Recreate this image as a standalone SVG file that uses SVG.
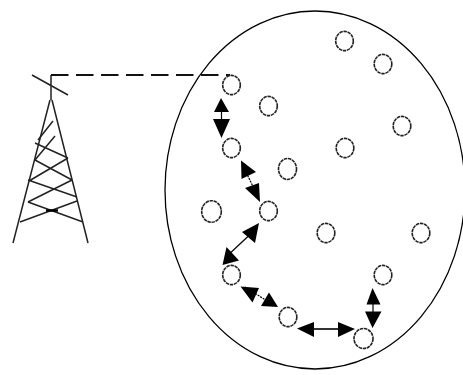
<svg xmlns="http://www.w3.org/2000/svg" width="463" height="375" viewBox="0 0 463 375">
<style>
.l{fill:none;stroke:#000;stroke-width:1.300}
.t{fill:none;stroke:#222;stroke-width:1.500}
.n{fill:#fff;stroke:#222;stroke-width:1.600;stroke-dasharray:3.500 .7}
.a{fill:#000}
.s{stroke:#000;fill:none;stroke-width:1.200}
</style>
<defs><ellipse id="c" rx="8.800" ry="9.600"/></defs>
<ellipse id="cell" class="l" cx="315" cy="190" rx="150" ry="179"/>
<g id="tower">
<path class="t" d="M32 75L68 95M51 75V100M50 100L13 243M52 100L88 243"/>
<path class="t" d="M28 202L83 222M20 222L77 201M28 180L77 197M28 202L72 180M35 160L72 180M29 181L68 158M35 143L68 158M35 160L55 136M38 140L53 121"/>
<path d="M46 210.500H58" stroke="#000" stroke-width="2.500"/>
</g>
<g id="connectors">
<path d="M51 75H230" fill="none" stroke="#111" stroke-width="1.800" stroke-dasharray="17.500 7.500"/>
<g id="a1"><path class="s" d="M221.500 105V125"/><path class="a" d="M221 98L214 112H229ZM221.500 138L213 119H230Z"/></g>
<g id="a2"><path class="s" d="M245 170L258 197" stroke-dasharray="2 1"/><path class="a" d="M241 160.500L256 172L241.500 179ZM260 202L245 188L259 183Z"/></g>
<g id="a3"><path class="s" d="M226 257L257 228"/><path class="a" d="M259 223L255 243L242 232ZM222.500 265L226.500 247L239 260.500Z"/></g>
<g id="a4"><path class="s" d="M245 287L275 306" stroke-dasharray="2 1"/><path class="a" d="M240.500 286.500L259 288L252.500 302.500ZM278 307L261 306L269 292.500Z"/></g>
<g id="a5"><path d="M305 329H350" stroke="#333" fill="none" stroke-width="2"/><path class="a" d="M297 328.500L314 322V337ZM355 329L338 322V337Z"/></g>
<g id="a6"><path class="s" d="M373 295V320"/><path class="a" d="M372.500 288L366.500 304.500H380.500ZM372.500 328L365 311.500H381.500Z"/></g>
</g>
<g id="n1"><use href="#c" class="n" x="344.500" y="41"/></g>
<g id="n2"><use href="#c" class="n" x="383" y="64"/></g>
<g id="n3"><use href="#c" class="n" x="231.500" y="85"/></g>
<g id="n4"><use href="#c" class="n" x="268.500" y="106"/></g>
<g id="n5"><use href="#c" class="n" x="402" y="126"/></g>
<g id="n6"><use href="#c" class="n" x="231.500" y="148"/></g>
<g id="n7"><use href="#c" class="n" x="345" y="148"/></g>
<g id="n8"><ellipse class="n" cx="287.500" cy="169" rx="9" ry="10.500"/></g>
<g id="n9"><ellipse class="n" cx="211.500" cy="211.500" rx="9.800" ry="10.800"/></g>
<g id="n10"><use href="#c" class="n" x="268.500" y="211"/></g>
<g id="n11"><use href="#c" class="n" x="326" y="233"/></g>
<g id="n12"><use href="#c" class="n" x="421" y="233"/></g>
<g id="n13"><use href="#c" class="n" x="231.500" y="275"/></g>
<g id="n14"><use href="#c" class="n" x="383" y="275"/></g>
<g id="n15"><use href="#c" class="n" x="288" y="317"/></g>
<g id="n16"><ellipse class="n" cx="363.500" cy="338.500" rx="9.500" ry="10"/></g>
</svg>
